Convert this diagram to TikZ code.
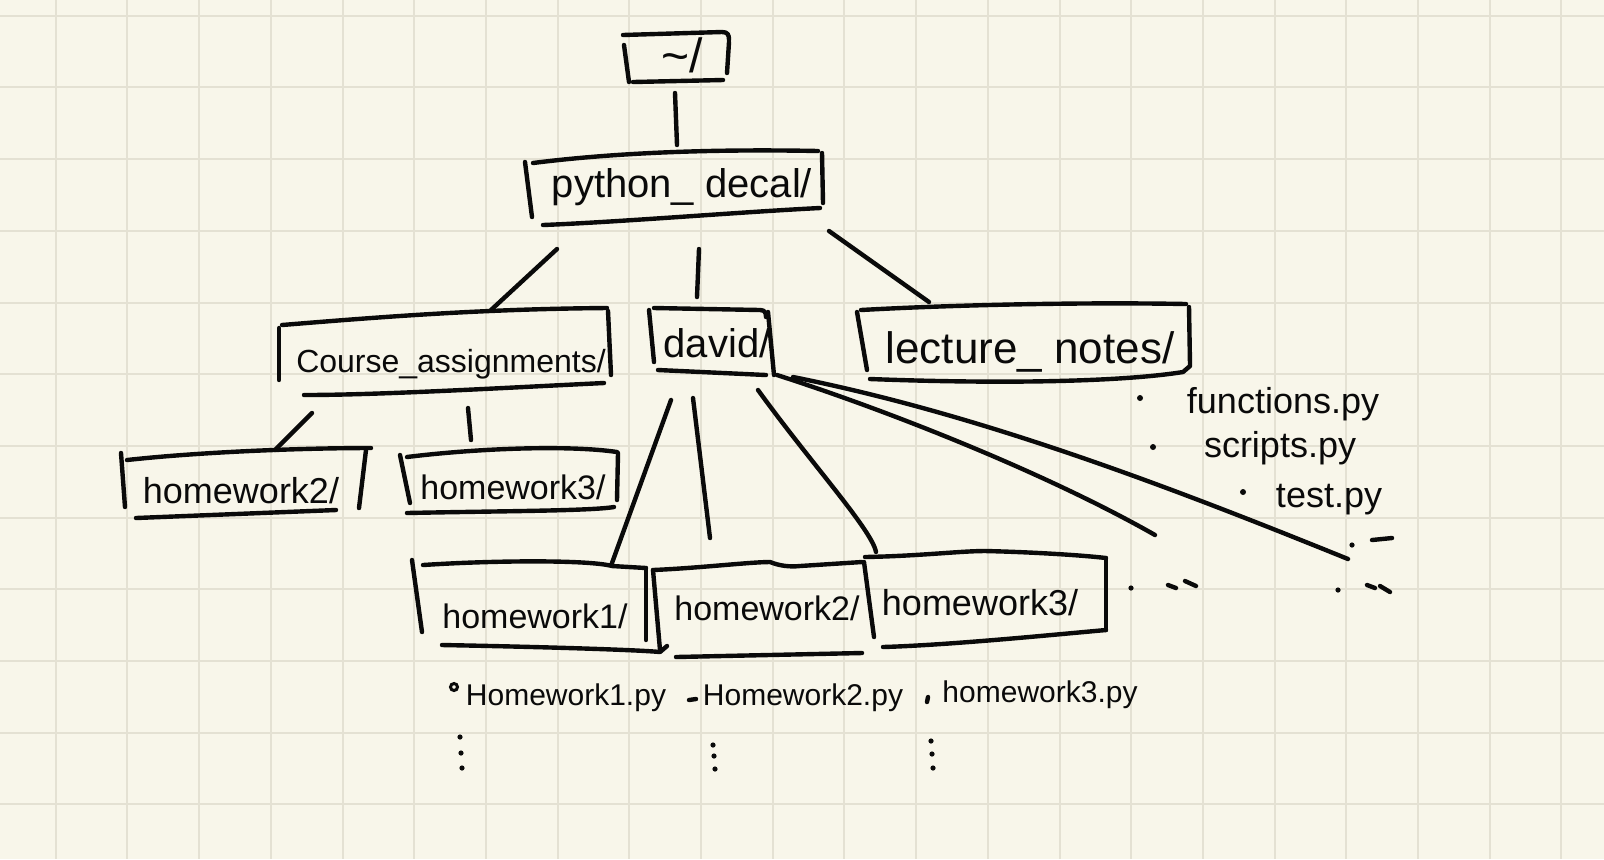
\documentclass[tikz,border=0pt]{standalone}
\usepackage{fontspec}
\setmainfont{Liberation Sans}
\definecolor{paper}{HTML}{F8F6EA}
\definecolor{gridc}{HTML}{E4E1D3}
\definecolor{inkc}{HTML}{0A0A0A}
\begin{document}
\begin{tikzpicture}[x=0.5pt,y=-0.5pt,
  ink/.style={line width=2.2pt, line cap=round, line join=round, draw=inkc},
  lbl/.style={anchor=base, inner sep=0pt, text=inkc},
  fs/.style={font=\fontsize{#1}{#1}\selectfont},
  inkdot/.style={fill=inkc}]
% paper and grid
\useasboundingbox (0,0) rectangle (1604,859);
\fill[paper] (0,0) rectangle (1604,859);
\foreach \k in {0,...,21} {\draw[gridc, line width=1pt] ({55.7+71.7*\k},0) -- ({55.7+71.7*\k},859);}
\foreach \k in {0,...,11} {\draw[gridc, line width=1pt] (0,{15.7+71.7*\k}) -- (1604,{15.7+71.7*\k});}

% ---------- labels ----------
\node[lbl,fs=24] (root) at (682,72) {\textasciitilde/};
\node[lbl,fs=20] (py) at (682,197) {python\_ decal/};
\node[lbl,fs=16] (course) at (451,372) {Course\_assignments/};
\node[lbl,fs=20] (david) at (717,357) {david/};
\node[lbl,fs=22] (lecture) at (1030,363) {lecture\_ notes/};
\node[lbl,fs=18] (hwa) at (241,503) {homework2/};
\node[lbl,fs=17] (hwb) at (513,499) {homework3/};
\node[lbl,fs=17] (hwc) at (535,628) {homework1/};
\node[lbl,fs=17] (hwd) at (767,620) {homework2/};
\node[lbl,fs=18] (hwe) at (980,615) {homework3/};
\node[lbl,fs=18] (fn) at (1283,413) {functions.py};
\node[lbl,fs=18] (sc) at (1280,457) {scripts.py};
\node[lbl,fs=18] (te) at (1329,507) {test.py};
\node[lbl,fs=15] (fa) at (566,705) {Homework1.py};
\node[lbl,fs=15] (fb) at (803,705) {Homework2.py};
\node[lbl,fs=15] (fc) at (1040,702) {homework3.py};

% ---------- hand-drawn boxes ----------
% ~/
\draw[ink] (623,35) -- (722,32) .. controls (728,32) and (729,35) .. (729,40);
\draw[ink] (624,45) -- (629,82);
\draw[ink] (729,42) -- (727,73);
\draw[ink] (633,82) -- (723,80);
% python_decal/
\draw[ink] (533,163) .. controls (620,152) and (720,149) .. (818,151);
\draw[ink] (525,162) -- (532,217);
\draw[ink] (822,153) -- (823,203);
\draw[ink] (543,225) .. controls (620,222) and (740,212) .. (820,208);
% Course_assignments/
\draw[ink] (282,325) .. controls (380,317) and (480,309) .. (607,308);
\draw[ink] (279,328) -- (279,380);
\draw[ink] (608,311) -- (611,375);
\draw[ink] (304,395) .. controls (380,395) and (500,388) .. (604,383);
% david/
\draw[ink] (654,308) -- (760,310) .. controls (765,310) and (766,313) .. (766,317);
\draw[ink] (768,312) -- (774,375);
\draw[ink] (649,310) -- (654,362);
\draw[ink] (658,370) -- (766,375);
% lecture_notes/
\draw[ink] (861,310) .. controls (950,305) and (1080,302) .. (1186,304);
\draw[ink] (857,312) -- (867,370);
\draw[ink] (1189,307) -- (1190,365);
\draw[ink] (870,379) .. controls (1000,384) and (1120,382) .. (1183,372) -- (1190,366);
% homework2/ (left)
\draw[ink] (127,460) .. controls (200,452) and (300,448) .. (371,448);
\draw[ink] (121,453) -- (125,507);
\draw[ink] (366,450) -- (359,508);
\draw[ink] (136,518) -- (336,510);
% homework3/ (left)
\draw[ink] (407,457) .. controls (480,448) and (570,445) .. (617,452);
\draw[ink] (400,455) -- (410,503);
\draw[ink] (618,453) -- (617,500);
\draw[ink] (407,513) .. controls (500,511) and (590,511) .. (614,507);
% homework1/ (bottom)
\draw[ink] (423,565) .. controls (500,560) and (590,560) .. (612,566) -- (646,568);
\draw[ink] (412,560) -- (422,632);
\draw[ink] (646,568) -- (646,640);
\draw[ink] (442,645) .. controls (550,647) and (640,650) .. (660,652) -- (667,646);
% homework2/ (bottom)
\draw[ink] (653,570) .. controls (700,568) and (750,562) .. (770,562) .. controls (780,566) and (790,567) .. (800,566) -- (862,562);
\draw[ink] (653,570) -- (660,650);
\draw[ink] (676,657) -- (862,653);
% homework3/ (bottom)
\draw[ink] (865,557) .. controls (920,556) and (960,551) .. (985,551) .. controls (1030,552) and (1080,555) .. (1106,558);
\draw[ink] (864,562) -- (874,637);
\draw[ink] (1106,558) -- (1106,630);
\draw[ink] (883,647) .. controls (950,645) and (1050,635) .. (1106,630);

% ---------- connectors ----------
\coordinate (rootS) at (675,93);   \coordinate (pyN) at (677,145);
\coordinate (pyA) at (557,249);    \coordinate (courseN) at (491,310);
\coordinate (pyB) at (699,249);    \coordinate (davidN) at (697,297);
\coordinate (pyC) at (829,231);    \coordinate (lectureN) at (929,302);
\coordinate (courseA) at (312,413); \coordinate (hwaN) at (275,450);
\coordinate (courseB) at (468,408); \coordinate (hwbN) at (471,440);
\coordinate (davidA) at (671,400); \coordinate (hwcN) at (612,563);
\coordinate (davidB) at (693,398); \coordinate (hwdN) at (710,538);
\coordinate (davidC) at (758,390); \coordinate (hweN) at (876,552);
\coordinate (davidD) at (777,375); \coordinate (moreA) at (1155,535);
\coordinate (davidE) at (793,377); \coordinate (moreB) at (1348,559);
\draw[ink] (rootS) -- (pyN);
\draw[ink] (pyA) -- (courseN);
\draw[ink] (pyB) -- (davidN);
\draw[ink] (pyC) -- (lectureN);
\draw[ink] (courseA) -- (hwaN);
\draw[ink] (courseB) -- (hwbN);
\draw[ink] (davidA) -- (hwcN);
\draw[ink] (davidB) -- (hwdN);
\draw[ink] (davidC) .. controls (810,462) and (872,530) .. (hweN);
\draw[ink] (davidD) .. controls (904,416) and (1055,478) .. (moreA);
\draw[ink] (davidE) .. controls (978,414) and (1163,484) .. (moreB);

% ---------- bullets and dots ----------
\fill[inkdot] (1140,398) circle (3);
\fill[inkdot] (1153,447) circle (3);
\fill[inkdot] (1243,492) circle (3);
\draw[inkc, line width=1.5pt] (454,687) circle (3.5);
\draw[ink] (689,700) -- (696,699);
\draw[ink] (928,697) -- (927,702);
% vertical dots
\foreach \x/\a/\b/\c in {460/737/753/768, 713/745/756/769, 931/741/754/768} {
  \fill[inkdot] (\x,\a) circle (2.6);
  \fill[inkdot] (\x+1,\b) circle (2.6);
  \fill[inkdot] (\x+2,\c) circle (2.6);
}
% ellipses
\fill[inkdot] (1131,588) circle (2.6);
\draw[ink] (1168,585) -- (1176,588);
\draw[ink] (1185,581) -- (1196,586);
\fill[inkdot] (1338,590) circle (2.6);
\draw[ink] (1367,585) -- (1375,588);
\draw[ink] (1380,586) -- (1390,592);
\fill[inkdot] (1352,545) circle (2.6);
\draw[ink] (1372,540) -- (1392,538);
\end{tikzpicture}
\end{document}
